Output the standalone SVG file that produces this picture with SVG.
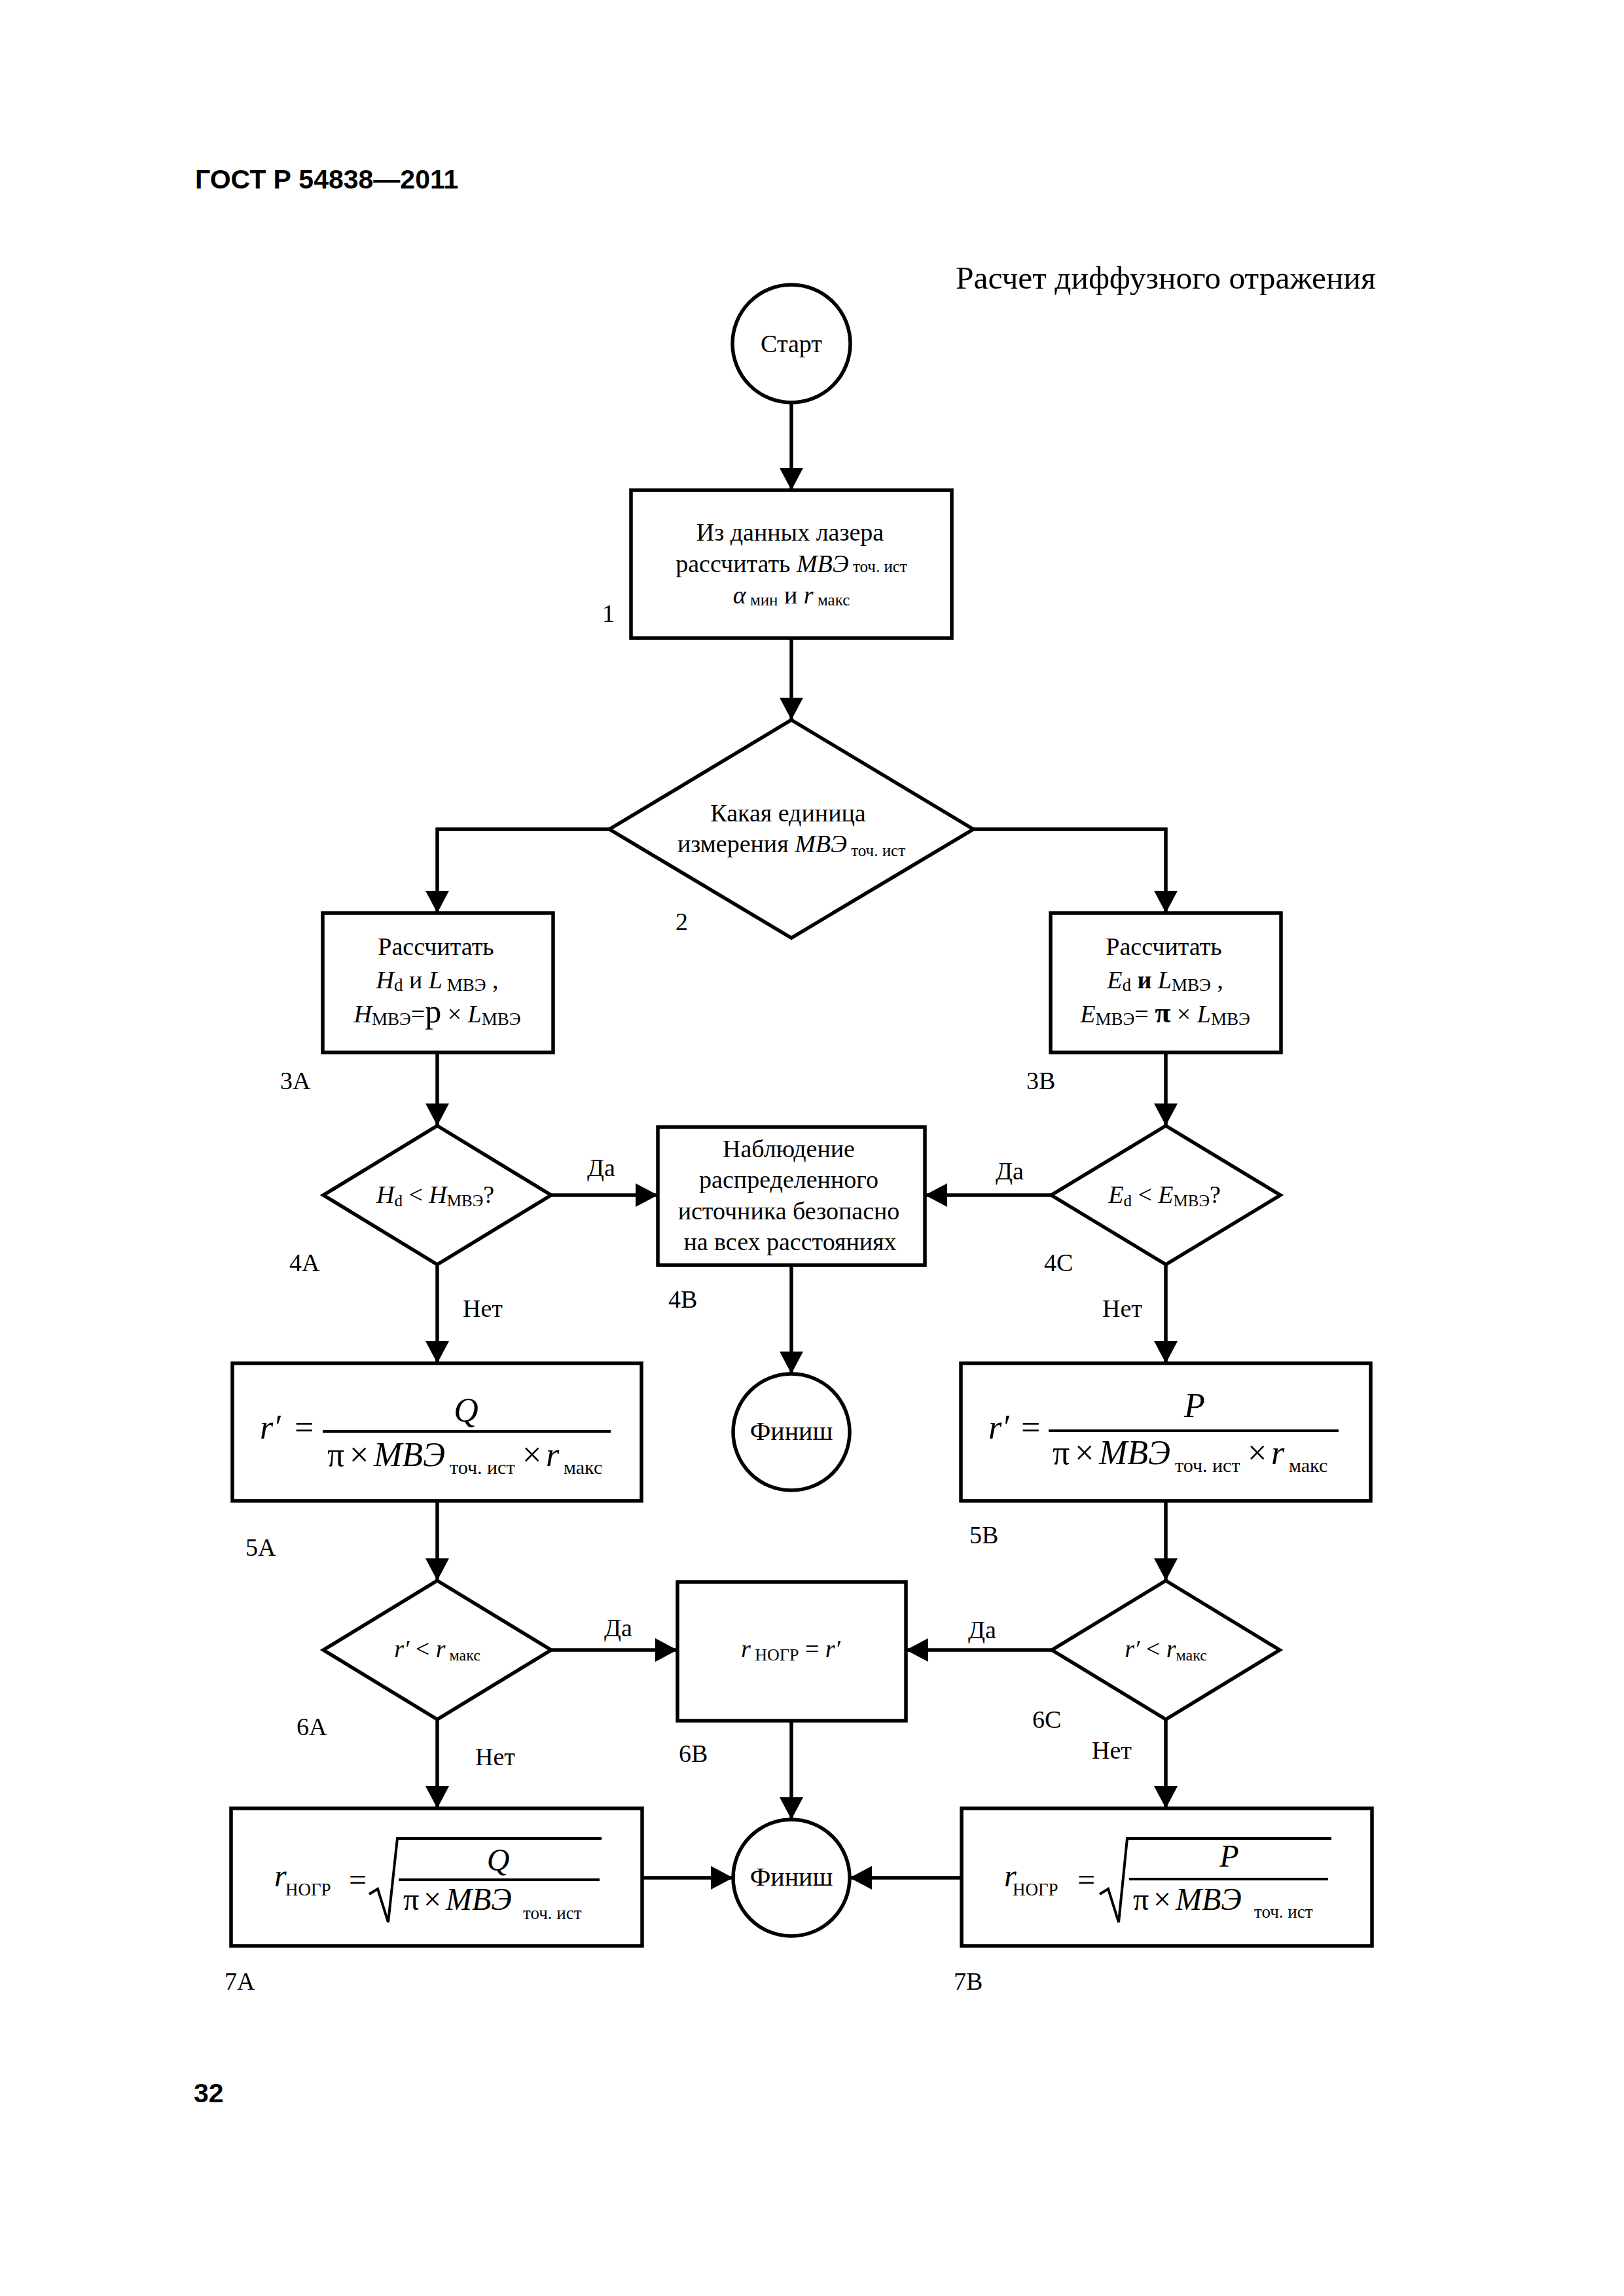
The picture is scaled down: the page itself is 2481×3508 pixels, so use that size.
<svg xmlns="http://www.w3.org/2000/svg" width="2481" height="3508" viewBox="0 0 2481 3508">
<style>
.n{fill:#fff;stroke:#000;stroke-width:5.5}
.c{fill:none;stroke:#000;stroke-width:5.5}
.t{font-family:"Liberation Serif","Times New Roman",serif;font-size:38px;fill:#000}
.i{font-style:italic}
.m{text-anchor:middle}
.s{font-size:25px}
.f{font-size:52px}
.g{font-size:48px}
.bar{stroke:#000;stroke-width:4}
.rad{fill:none;stroke:#000;stroke-width:4;stroke-linejoin:miter}
.h{font-family:"Liberation Sans",Arial,sans-serif;font-weight:bold;font-size:41px;fill:#000}
</style>
<defs>
<marker id="ah" markerUnits="userSpaceOnUse" markerWidth="34" markerHeight="36" refX="34" refY="18" orient="auto" viewBox="0 0 34 36">
<path d="M0,0 L34,18 L0,36 z" fill="#000"/>
</marker>
</defs>
<rect width="2481" height="3508" fill="#fff"/>
<g id="header">
<text class="h" x="298" y="288">ГОСТ Р 54838—2011</text>
<text class="t" x="1460" y="441" style="font-size:49.5px">Расчет диффузного отражения</text>
<text class="h" x="296" y="3212">32</text>
</g>
<g id="connectors" marker-end="url(#ah)">
<path class="c" d="M1209 615V749"/>
<path class="c" d="M1209 975V1100"/>
<path class="c" d="M931 1267H668V1395"/>
<path class="c" d="M1487 1267H1781V1395"/>
<path class="c" d="M668 1608V1720"/>
<path class="c" d="M1781 1608V1720"/>
<path class="c" d="M842 1826H1005"/>
<path class="c" d="M1606 1826H1413"/>
<path class="c" d="M1209 1933V2099"/>
<path class="c" d="M668 1932V2083"/>
<path class="c" d="M1781 1932V2083"/>
<path class="c" d="M668 2293V2415"/>
<path class="c" d="M1781 2293V2415"/>
<path class="c" d="M842 2521H1035"/>
<path class="c" d="M1607 2521H1384"/>
<path class="c" d="M1209 2629V2780"/>
<path class="c" d="M668 2627V2763"/>
<path class="c" d="M1781 2627V2763"/>
<path class="c" d="M981 2869H1120"/>
<path class="c" d="M1469 2869H1298"/>
</g>
<g id="start">
<circle class="n" cx="1209" cy="525" r="90"/>
<text class="t m" x="1209" y="538">Старт</text>
</g>
<g id="n1">
<rect class="n" x="964" y="749" width="490" height="226"/>
<text class="t m" x="1207" y="826">Из данных лазера</text>
<text class="t m" x="1209" y="874">рассчитать <tspan class="i">МВЭ</tspan><tspan class="s"> точ. ист</tspan></text>
<text class="t m" x="1209" y="922"><tspan class="i">α</tspan><tspan class="s" dy="3"> мин</tspan><tspan dy="-3"> и </tspan><tspan class="i">r</tspan><tspan class="s" dy="3"> макс</tspan></text>
<text class="t" x="920" y="950">1</text>
</g>
<g id="n2">
<path class="n" d="M1209 1100L1487 1267L1209 1433L931 1267Z"/>
<text class="t m" x="1204" y="1255">Какая единица</text>
<text class="t m" x="1209" y="1302">измерения <tspan class="i">МВЭ</tspan><tspan class="s" dy="6"> точ. ист</tspan></text>
<text class="t" x="1032" y="1421">2</text>
</g>
<g id="n3a">
<rect class="n" x="493" y="1395" width="352" height="213"/>
<text class="t m" x="666" y="1459">Рассчитать</text>
<text class="t m" x="668" y="1510"><tspan class="i">H</tspan><tspan style="font-size:27px" dy="4">d</tspan><tspan dy="-4"> и </tspan><tspan class="i">L</tspan><tspan style="font-size:27px" dy="4"> МВЭ</tspan><tspan dy="-4"> ,</tspan></text>
<text class="t m" x="668" y="1562"><tspan class="i">H</tspan><tspan style="font-size:27px" dy="4">МВЭ</tspan><tspan dy="-4">=</tspan><tspan style="font-size:50px">p</tspan><tspan> × </tspan><tspan class="i">L</tspan><tspan style="font-size:27px" dy="4">МВЭ</tspan></text>
<text class="t" x="428" y="1664">3А</text>
</g>
<g id="n3b">
<rect class="n" x="1605" y="1395" width="352" height="213"/>
<text class="t m" x="1778" y="1459">Рассчитать</text>
<text class="t m" x="1780" y="1510"><tspan class="i">E</tspan><tspan style="font-size:27px" dy="4">d</tspan><tspan dy="-4"> </tspan><tspan font-weight="bold">и</tspan><tspan> </tspan><tspan class="i">L</tspan><tspan style="font-size:27px" dy="4">МВЭ</tspan><tspan dy="-4"> ,</tspan></text>
<text class="t m" x="1780" y="1562"><tspan class="i">E</tspan><tspan style="font-size:27px" dy="4">МВЭ</tspan><tspan dy="-4">= </tspan><tspan font-weight="bold" style="font-size:44px">π</tspan><tspan> × </tspan><tspan class="i">L</tspan><tspan style="font-size:27px" dy="4">МВЭ</tspan></text>
<text class="t" x="1568" y="1664">3В</text>
</g>
<g id="n4a">
<path class="n" d="M668 1720L842 1826L668 1932L494 1826Z"/>
<text class="t m" x="665" y="1838"><tspan class="i">H</tspan><tspan style="font-size:25px" dy="5">d</tspan><tspan dy="-5"> &lt; </tspan><tspan class="i">H</tspan><tspan style="font-size:25px" dy="5">МВЭ</tspan><tspan dy="-5">?</tspan></text>
<text class="t" x="897" y="1797">Да</text>
<text class="t" x="442" y="1942">4А</text>
<text class="t" x="707" y="2012">Нет</text>
</g>
<g id="n4b">
<rect class="n" x="1005" y="1722" width="408" height="211"/>
<text class="t m" x="1205" y="1768">Наблюдение</text>
<text class="t m" x="1205" y="1815">распределенного</text>
<text class="t m" x="1205" y="1863">источника безопасно</text>
<text class="t m" x="1207" y="1910">на всех расстояниях</text>
<text class="t" x="1021" y="1998">4В</text>
</g>
<g id="n4c">
<path class="n" d="M1781 1720L1956 1826L1781 1932L1606 1826Z"/>
<text class="t m" x="1779" y="1838"><tspan class="i">E</tspan><tspan style="font-size:25px" dy="5">d</tspan><tspan dy="-5"> &lt; </tspan><tspan class="i">E</tspan><tspan style="font-size:25px" dy="5">МВЭ</tspan><tspan dy="-5">?</tspan></text>
<text class="t" x="1521" y="1802">Да</text>
<text class="t" x="1595" y="1942">4С</text>
<text class="t" x="1684" y="2012">Нет</text>
</g>
<g id="finish1">
<circle class="n" cx="1209" cy="2188" r="89"/>
<text class="t m" x="1209" y="2200" style="font-size:40px">Финиш</text>
</g>
<g id="n5a">
<rect class="n" x="355" y="2083" width="625" height="210"/>
<text class="t f i" x="397" y="2198">r′</text>
<text class="t f" x="450" y="2198">=</text>
<line class="bar" x1="493" y1="2187" x2="933" y2="2187"/>
<text class="t f i m" x="712" y="2172">Q</text>
<text class="t f" x="500" y="2240">π</text>
<text class="t f" x="534" y="2240">×</text>
<text class="t f i" x="571" y="2240">МВЭ</text>
<text class="t" x="687" y="2252" style="font-size:30px">точ. ист</text>
<text class="t f" x="798" y="2240">×</text>
<text class="t f i" x="834" y="2240">r</text>
<text class="t" x="861" y="2252" style="font-size:30px">макс</text>
<text class="t" x="375" y="2377">5А</text>
</g>
<g id="n5b">
<rect class="n" x="1468" y="2083" width="626" height="210"/>
<text class="t f i" x="1510" y="2198">r′</text>
<text class="t f" x="1560" y="2198">=</text>
<line class="bar" x1="1602" y1="2186" x2="2045" y2="2186"/>
<text class="t f i m" x="1825" y="2165">P</text>
<text class="t f" x="1608" y="2237">π</text>
<text class="t f" x="1642" y="2237">×</text>
<text class="t f i" x="1679" y="2237">МВЭ</text>
<text class="t" x="1795" y="2249" style="font-size:30px">точ. ист</text>
<text class="t f" x="1906" y="2237">×</text>
<text class="t f i" x="1942" y="2237">r</text>
<text class="t" x="1969" y="2249" style="font-size:30px">макс</text>
<text class="t" x="1481" y="2358">5В</text>
</g>
<g id="n6a">
<path class="n" d="M668 2415L842 2521L668 2627L494 2521Z"/>
<text class="t m" x="668" y="2532"><tspan class="i">r′</tspan> &lt; <tspan class="i">r</tspan><tspan style="font-size:24px" dy="5"> макс</tspan></text>
<text class="t" x="923" y="2500">Да</text>
<text class="t" x="453" y="2651">6А</text>
<text class="t" x="726" y="2697">Нет</text>
</g>
<g id="n6b">
<rect class="n" x="1035" y="2417" width="349" height="212"/>
<text class="t m" x="1208" y="2532"><tspan class="i">r</tspan><tspan style="font-size:26px" dy="5"> НОГР</tspan><tspan dy="-5"> = </tspan><tspan class="i">r′</tspan></text>
<text class="t" x="1037" y="2692">6В</text>
</g>
<g id="n6c">
<path class="n" d="M1781 2415L1955 2521L1781 2627L1607 2521Z"/>
<text class="t m" x="1781" y="2532"><tspan class="i">r′</tspan> &lt; <tspan class="i">r</tspan><tspan style="font-size:24px" dy="5">макс</tspan></text>
<text class="t" x="1479" y="2503">Да</text>
<text class="t" x="1577" y="2640">6С</text>
<text class="t" x="1668" y="2687">Нет</text>
</g>
<g id="n7a">
<rect class="n" x="353" y="2763" width="628" height="210"/>
<text class="t g i" x="419" y="2882">r</text>
<text class="t" x="436" y="2896" style="font-size:27px">НОГР</text>
<text class="t g" x="533" y="2888">=</text>
<path class="rad" d="M564 2894L577 2886L593 2937L607 2809H919"/>
<line class="bar" x1="609" y1="2872" x2="916" y2="2872"/>
<text class="t g i m" x="761" y="2858">Q</text>
<text class="t g" x="616" y="2918">π</text>
<text class="t g" x="647" y="2918">×</text>
<text class="t g i" x="681" y="2918">МВЭ</text>
<text class="t" x="799" y="2932" style="font-size:27px">точ. ист</text>
<text class="t" x="343" y="3040">7А</text>
</g>
<g id="finish2">
<circle class="n" cx="1209" cy="2869" r="89"/>
<text class="t m" x="1209" y="2881" style="font-size:40px">Финиш</text>
</g>
<g id="n7b">
<rect class="n" x="1469" y="2763" width="627" height="210"/>
<text class="t g i" x="1534" y="2882">r</text>
<text class="t" x="1547" y="2896" style="font-size:27px">НОГР</text>
<text class="t g" x="1646" y="2888">=</text>
<path class="rad" d="M1680 2894L1693 2886L1709 2937L1722 2809H2034"/>
<line class="bar" x1="1725" y1="2871" x2="2029" y2="2871"/>
<text class="t g i m" x="1878" y="2852">P</text>
<text class="t g" x="1731" y="2918">π</text>
<text class="t g" x="1762" y="2918">×</text>
<text class="t g i" x="1796" y="2918">МВЭ</text>
<text class="t" x="1916" y="2930" style="font-size:27px">точ. ист</text>
<text class="t" x="1457" y="3040">7В</text>
</g>
</svg>
